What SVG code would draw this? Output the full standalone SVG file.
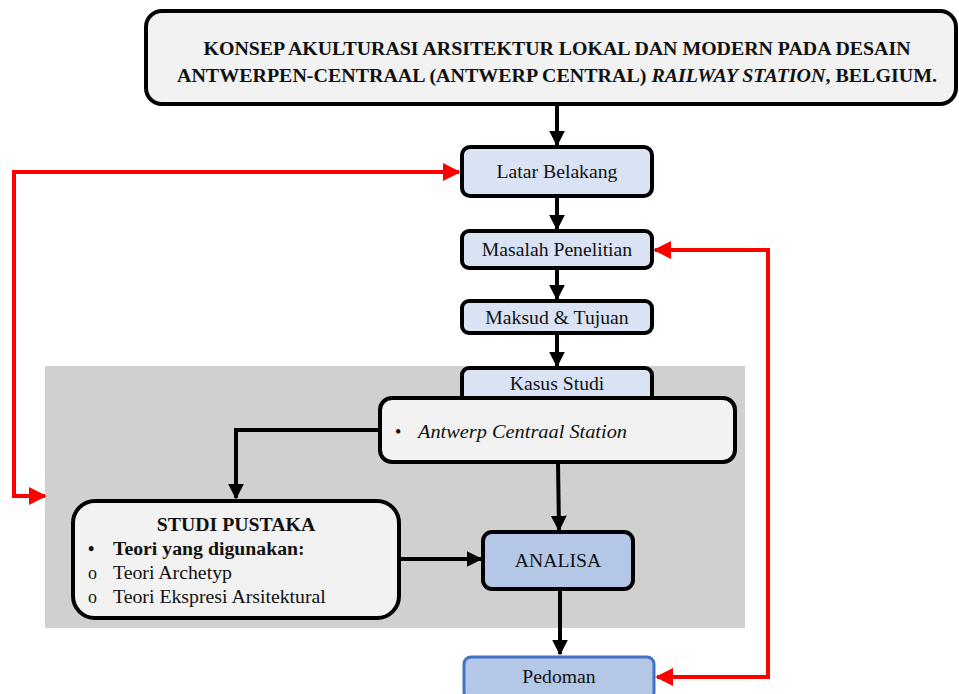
<svg xmlns="http://www.w3.org/2000/svg" width="959" height="694" viewBox="0 0 959 694">
  <defs>
    <marker id="arrBlack" viewBox="0 0 10 10" refX="9" refY="5" markerWidth="4" markerHeight="4" orient="auto-start-reverse" markerUnits="strokeWidth">
      <path d="M0,0 L10,5 L0,10 Z" fill="#000"/>
    </marker>
    <marker id="arrRed" viewBox="0 0 10 10" refX="9" refY="5" markerWidth="4.5" markerHeight="4.5" orient="auto-start-reverse" markerUnits="strokeWidth">
      <path d="M0,0 L10,5 L0,10 Z" fill="#ff0000"/>
    </marker>
    <style>
      text { font-family: "Liberation Serif", "DejaVu Serif", serif; fill: #111; }
      .box { stroke: #000; stroke-width: 4; }
      .light { fill: #f2f2f2; }
      .blue { fill: #dae3f3; }
      .mid { fill: #b4c7e7; }
      .lbl { font-size: 19.7px; text-anchor: middle; }
      .blk { fill: none; stroke: #000; stroke-width: 4; marker-end: url(#arrBlack); }
      .red { fill: none; stroke: #ff0000; stroke-width: 4; marker-start: url(#arrRed); marker-end: url(#arrRed); }
    </style>
  </defs>

  <rect width="959" height="694" fill="#fff"/>

  <!-- shaded case-study / analysis panel -->
  <rect x="45" y="366" width="700" height="262" fill="#d0d0d0"/>

  <g id="connectors">
    <path class="blk" d="M557,105 V145"/>
    <path class="blk" d="M557,196 V229"/>
    <path class="blk" d="M557,268 V299"/>
    <path class="blk" d="M557,333 V366"/>
    <path class="blk" d="M379,430 H236 V498"/>
    <path class="blk" d="M558,462 L559,530"/>
    <path class="blk" d="M400,559 H481"/>
    <path class="blk" d="M560,589 V654"/>
    <path class="red" d="M45,496 H14 V172 H459"/>
    <path class="red" d="M655,250 H768 V677 H657"/>
  </g>

  <g id="title">
    <rect class="box light" x="146" y="11" width="810" height="93" rx="16"/>
    <text x="557" y="55" font-size="19" font-weight="bold" text-anchor="middle" textLength="707" lengthAdjust="spacingAndGlyphs">KONSEP AKULTURASI ARSITEKTUR LOKAL DAN MODERN PADA DESAIN</text>
    <text x="557" y="82" font-size="19" font-weight="bold" text-anchor="middle" textLength="760" lengthAdjust="spacingAndGlyphs">ANTWERPEN-CENTRAAL (ANTWERP CENTRAL) <tspan font-style="italic">RAILWAY STATION</tspan>, BELGIUM.</text>
  </g>

  <g id="latar-belakang">
    <rect class="box blue" x="462" y="147" width="190" height="49" rx="8"/>
    <text class="lbl" x="557" y="178">Latar Belakang</text>
  </g>

  <g id="masalah-penelitian">
    <rect class="box blue" x="462" y="231" width="190" height="37" rx="7"/>
    <text class="lbl" x="557" y="256">Masalah Penelitian</text>
  </g>

  <g id="maksud-tujuan">
    <rect class="box blue" x="462" y="301" width="190" height="32" rx="7"/>
    <text class="lbl" x="557" y="324">Maksud &amp; Tujuan</text>
  </g>

  <g id="kasus-studi">
    <rect class="box blue" x="462" y="368" width="190" height="40" rx="7"/>
    <text class="lbl" x="557" y="390">Kasus Studi</text>
  </g>

  <g id="antwerp-station">
    <rect class="box light" x="380" y="398" width="355" height="64" rx="12"/>
    <text x="395" y="438" font-size="18">•</text>
    <text x="418" y="438" font-size="19.5" font-style="italic" textLength="209" lengthAdjust="spacingAndGlyphs">Antwerp Centraal Station</text>
  </g>

  <g id="studi-pustaka">
    <rect class="box light" x="73" y="501" width="326" height="117" rx="22"/>
    <text x="236" y="531" font-size="19.8" font-weight="bold" text-anchor="middle">STUDI PUSTAKA</text>
    <text x="88" y="555" font-size="18" font-weight="bold">•</text>
    <text x="113" y="555" font-size="19.8" font-weight="bold">Teori yang digunakan:</text>
    <text x="88" y="579" font-size="18">o</text>
    <text x="113" y="579" font-size="19.8">Teori Archetyp</text>
    <text x="88" y="603" font-size="18">o</text>
    <text x="113" y="603" font-size="19.8">Teori Ekspresi Arsitektural</text>
  </g>

  <g id="analisa">
    <rect class="box mid" x="483" y="532" width="150" height="57" rx="9"/>
    <text class="lbl" x="558" y="567">ANALISA</text>
  </g>

  <g id="pedoman">
    <rect class="mid" x="464" y="657" width="190" height="42" rx="7" stroke="#4472c4" stroke-width="3"/>
    <text class="lbl" x="559" y="683">Pedoman</text>
  </g>
</svg>
